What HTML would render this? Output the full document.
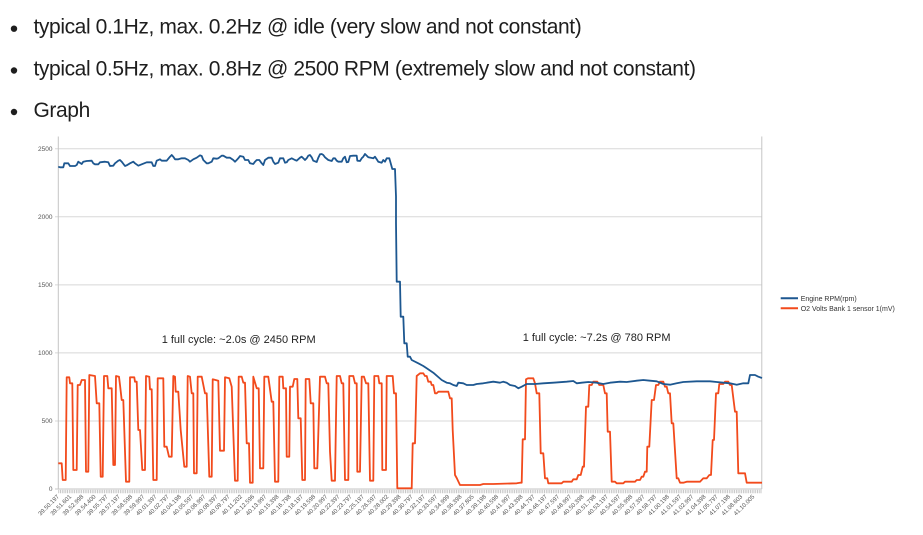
<!DOCTYPE html>
<html><head><meta charset="utf-8"><style>
html,body{margin:0;padding:0;background:#fff;width:923px;height:535px;overflow:hidden}
svg{display:block}
</style></head><body>
<svg width="923" height="535" viewBox="0 0 923 535" xmlns="http://www.w3.org/2000/svg">
<rect width="923" height="535" fill="#fff"/>
<g font-family="'Liberation Sans', sans-serif" font-size="21" fill="#1e1e1e" letter-spacing="-0.4">
<circle cx="14" cy="28.7" r="3.2" fill="#1e1e1e"/>
<circle cx="14" cy="70.5" r="3.2" fill="#1e1e1e"/>
<circle cx="14" cy="112" r="3.2" fill="#1e1e1e"/>
<text x="33.5" y="33.7">typical 0.1Hz, max. 0.2Hz @ idle (very slow and not constant)</text>
<text x="33.5" y="75.5">typical 0.5Hz, max. 0.8Hz @ 2500 RPM (extremely slow and not constant)</text>
<text x="33.5" y="117">Graph</text>
</g>
<!-- grid -->
<g stroke="#d8d8d8" stroke-width="1">
<line x1="55" y1="148.8" x2="762" y2="148.8"/>
<line x1="55" y1="216.8" x2="762" y2="216.8"/>
<line x1="55" y1="284.9" x2="762" y2="284.9"/>
<line x1="55" y1="352.9" x2="762" y2="352.9"/>
<line x1="55" y1="421" x2="762" y2="421"/>
</g>
<g stroke="#c4c4c4" stroke-width="1">
<line x1="58.3" y1="136.5" x2="58.3" y2="489"/>
<line x1="761.8" y1="136.5" x2="761.8" y2="489"/>
<line x1="55" y1="489" x2="762" y2="489"/>
</g>
<line x1="58.3" y1="491.6" x2="762" y2="491.6" stroke="#c2c2c2" stroke-width="3.4" stroke-dasharray="0.9 0.86"/>
<g font-family="'Liberation Sans', sans-serif" font-size="6.5" fill="#555" text-anchor="end">
<text x="52.5" y="151">2500</text>
<text x="52.5" y="219">2000</text>
<text x="52.5" y="287.1">1500</text>
<text x="52.5" y="355.1">1000</text>
<text x="52.5" y="423.2">500</text>
<text x="52.5" y="491.2">0</text>
</g>
<!-- series -->
<polyline fill="none" stroke="#f24a1c" stroke-width="1.8" stroke-linejoin="round" points="58.3,463.3 61.7,463.3 62.7,480 65.7,480 66.7,377.3 69.3,377.3 70,383.3 72.3,383.3 73.3,470 76.7,470 77.7,385 80,385 81.7,380 85,380 86,471.7 88.3,471.7 89.3,375 95,376 96.7,403.3 99.3,403.3 100.7,476.7 102.7,476.7 104,376 107.3,376 108.3,388.3 111.7,388.3 113.3,465 115,465 116,376 119,376.7 120,385 121.7,400 123.3,400 126,481.7 129.3,481.7 130,377.3 134.3,377.3 135,381.7 136.7,381.7 138.3,430 140,430 142.3,470 145,470 146,376 149.3,376.7 150,389.3 151.7,389.3 153.3,480 156.7,480 157.7,378.3 163.3,378.3 164.3,446.7 166.7,446.7 169,456.7 171.7,456.7 173.3,376 175,376.7 175.7,391.7 178.3,391.7 180.7,430 184.3,466.7 186.7,466.7 187.7,376 190,376.7 191.7,393.3 193.3,393.3 194,473.3 196.7,473.3 197.7,376.7 201.7,376.7 205,393.3 206.7,393.3 209.3,476.7 211.7,476.7 212.7,379.3 218.3,380.7 220,450.7 224,450.7 225,377.3 229.3,378.3 231.7,386.7 235,480.7 237.7,480.7 238.7,376.7 241.7,376.7 243.3,382.7 245,382.7 246.7,443.3 249,443.3 250,482.7 252.7,482.7 253.3,376.7 256.7,388.3 258.7,388.3 260,468.3 263.3,468.3 264.3,376.7 268.3,376.7 271.7,401.7 273.3,401.7 275,481.7 278.3,481.7 279.3,376.7 282.7,376.7 283.3,388.3 286,388.3 286.7,456.7 289.3,456.7 290,386.7 292.7,386.7 294.3,379 297.3,379 298.3,418.3 300.7,418.3 302.3,480 305,480 305.7,379 309.3,379 310.7,403.3 313.3,403.3 314.3,468.3 317.3,468.3 320,376.7 325,376.7 326.7,383.3 328.3,383.3 330,451.7 331.7,480.7 335,480.7 336.7,376 340,376 341.7,383.3 343.3,383.3 345,480 348.3,480 349.3,376 353.3,376 355,383.3 356.7,383.3 357.3,471.7 360,471.7 361.7,376.7 364,376.7 366,383.3 368.3,383.3 370,480.7 373.3,480.7 374.3,376 378.3,376 379.3,383.3 381.7,383.3 382.3,470 386,470 386.7,376 392.7,376 394,393.3 396,393.3 397.3,488.3 411.7,488.3 412.7,443.3 415,443.3 416.7,376 420,373.3 423.3,373.3 425,376 426.7,376 428.3,381.7 430.7,381.7 431.7,385 433.3,385 435,393.3 436.7,393.3 438.3,391.7 448.3,391.7 450,398.3 451.7,398.3 452.7,430 455,475 456.7,478 460,485 480,485 483.3,484 493.3,484 516.7,483.3 520,482.7 521.7,482.7 522.7,439.3 525,439.3 526,379.3 528,378.3 533.3,378.3 535,383.3 536.7,393.3 539.3,393.3 540.7,453.3 543.3,453.3 545,478.3 547.3,478.3 548.3,483.3 561.7,483.3 563.3,481.7 571.7,481.7 573.3,479.3 576.7,479.3 578.3,475 580.7,475 582.7,466.7 584,466.7 586,406.7 588.3,406.7 589.3,385 591.7,385 593.3,381.7 597.3,381.7 599.3,385 603.3,385 605,393.3 606.7,393.3 607.7,431.7 610,431.7 611.7,481.7 615,481.7 616.7,483.3 623.3,483.3 625,481.7 635,481.7 636.7,480 640,480 641.7,476.7 643.3,476.7 645,471.7 646.7,471.7 647.3,446.7 649.3,446.7 651.7,400 654,400 656,385 658.3,385 660,381.7 663.3,381.7 665,386.7 666.7,386.7 668.3,393.3 670,393.3 671.7,423.3 673.3,423.3 676.7,478.3 678.3,478.3 680,482.7 683.3,482.7 686.7,481.7 700,481.7 703.3,478.3 706.7,478.3 709.3,475 711,475 712.7,440 714,440 716,393.3 718.3,393.3 719.3,384 723.3,384 725,381.7 728.3,381.7 730,385 731.7,385 735,411.7 736.7,411.7 738.3,473.3 745,473.3 746.7,482.7 762,482.7"/>
<polyline fill="none" stroke="#1d5790" stroke-width="1.8" stroke-linejoin="round" points="58.3,166.7 60,167.3 63.3,167.3 64.3,163.3 68.3,163.3 70,166 75,166 76.7,165 78.3,161.7 81.7,164 83.3,161.7 86.7,161 91.7,160.7 93.3,163.3 95,164.3 98.3,164.3 100,162.3 105,161.7 108.3,162.3 110,166 113.3,165.7 115,163.3 118.3,160.7 120,160 121.7,161.7 125,166 126.7,165.3 130,163.3 133.3,161.7 135,163.3 138.3,165.7 141.7,164.3 146.7,162.3 151.7,162.3 153.3,166 155,166 156.7,160.7 160,159.3 161.7,160.7 166.7,160.7 170,156.7 171.7,155 173.3,156.7 175,159.3 178.3,159.3 181.7,158.3 185,158.3 188.3,160 190,161.7 193.3,159.3 196.7,157.7 200,155.3 201.7,156 203.3,160 206.7,163.3 208.3,163.3 211.7,161.7 213.3,158.3 216.7,158.7 218.3,158.3 221.7,155.7 223.3,155.7 226.7,157.7 230,157.7 233.3,160 235,161.7 236.7,160 238.3,158.3 240,156 243.3,156.7 245,160 248.3,160 250,163.3 253.3,164 255,161.7 256.7,160 259.3,160 261.7,163.3 263.3,165 265,160 268.3,157.7 271.7,157.7 273.3,161.7 275,164 278.3,162.7 280,158.3 283.3,158.3 285,162.7 286.7,162.3 288.3,160 291.7,158.3 295,160 296.7,160.7 300,157.7 301.7,156.7 303.3,158.3 305,160 306.7,158.3 308.3,155.7 310,155 311.7,157.3 313.3,160.7 316.7,162 318.3,157.7 320,154.3 321.7,154 323.3,155 325,157.3 328.3,160 331.7,161 333.3,158.3 335,158.3 336.7,160.7 338.3,161.7 341.7,161.7 343.3,158.3 345,156.7 346.7,162.3 348.3,162 350,156 353.3,155.7 356.7,155.7 357.3,160.7 360,161 361.7,158.3 363.3,156.7 365,154 368.3,157.3 373.3,158.3 375,156.7 376.7,159.3 378.3,161.7 381.7,162.7 383.3,160 385,161.7 386.7,158.3 389.3,158.3 390.7,163.3 392.3,169 395,169 396,196.7 396,223 396.7,281.7 400,281.7 400.7,316.7 403.3,316.7 404.3,343.3 406.7,343.3 407.7,356.7 410,356.7 411.7,360 418.3,363.3 423.3,366 426.7,368.3 433.3,372.7 441.7,380 446.7,382.7 450,383.3 453.3,385 456.7,386 458.3,382.7 463.3,383.3 466.7,385 473.3,385 476.7,384 483.3,383.3 486.7,382.7 493.3,381.7 500,382.7 503.3,381.7 506.7,382.7 510,385 515,386 518.3,388.3 521.7,386.7 526.7,384 535,384 543.3,383.3 553.3,382.7 566.7,381.7 573.3,381 576.7,383.3 581.7,382.7 588.3,382 596.7,382.7 603.3,384 610,382.7 620,381.7 626.7,382 636.7,380.7 643.3,380 650,380.7 656.7,381.3 663.3,384 670,384.7 676.7,383.3 683.3,382 696.7,381.3 710,381.3 716.7,382 723.3,382.7 730,383.3 736.7,384.7 743.3,383.3 748.3,383.3 750,375 755,375 758.3,376.7 762,378"/>
<!-- annotations -->
<g font-family="'Liberation Sans', sans-serif" font-size="11" fill="#222">
<text x="161.7" y="343.2">1 full cycle: ~2.0s @ 2450 RPM</text>
<text x="522.7" y="341.2">1 full cycle: ~7.2s @ 780 RPM</text>
</g>
<!-- legend -->
<line x1="780.7" y1="298.3" x2="798" y2="298.3" stroke="#1d5790" stroke-width="2"/>
<line x1="780.7" y1="308.3" x2="798" y2="308.3" stroke="#f24a1c" stroke-width="2"/>
<g font-family="'Liberation Sans', sans-serif" font-size="7" fill="#333">
<text x="800.7" y="300.8">Engine RPM(rpm)</text>
<text x="800.7" y="310.8">O2 Volts Bank 1 sensor 1(mV)</text>
</g>
<!-- x labels -->
<g font-family="'Liberation Sans', sans-serif" font-size="6" fill="#555" text-anchor="end">
<text transform="translate(59.5,497) rotate(-45)">39.50.197</text>
<text transform="translate(71.7,497) rotate(-45)">39.51.601</text>
<text transform="translate(83.9,497) rotate(-45)">39.52.998</text>
<text transform="translate(96.1,497) rotate(-45)">39.54.400</text>
<text transform="translate(108.3,497) rotate(-45)">39.55.797</text>
<text transform="translate(120.5,497) rotate(-45)">39.57.197</text>
<text transform="translate(132.7,497) rotate(-45)">39.58.598</text>
<text transform="translate(144.9,497) rotate(-45)">39.59.997</text>
<text transform="translate(157.1,497) rotate(-45)">40.01.397</text>
<text transform="translate(169.3,497) rotate(-45)">40.02.797</text>
<text transform="translate(181.5,497) rotate(-45)">40.04.198</text>
<text transform="translate(193.7,497) rotate(-45)">40.05.597</text>
<text transform="translate(205.9,497) rotate(-45)">40.06.997</text>
<text transform="translate(218.1,497) rotate(-45)">40.08.397</text>
<text transform="translate(230.3,497) rotate(-45)">40.09.797</text>
<text transform="translate(242.5,497) rotate(-45)">40.11.202</text>
<text transform="translate(254.7,497) rotate(-45)">40.12.596</text>
<text transform="translate(266.9,497) rotate(-45)">40.13.997</text>
<text transform="translate(279.1,497) rotate(-45)">40.15.398</text>
<text transform="translate(291.3,497) rotate(-45)">40.16.798</text>
<text transform="translate(303.5,497) rotate(-45)">40.18.197</text>
<text transform="translate(315.7,497) rotate(-45)">40.19.598</text>
<text transform="translate(327.9,497) rotate(-45)">40.20.997</text>
<text transform="translate(340.1,497) rotate(-45)">40.22.397</text>
<text transform="translate(352.3,497) rotate(-45)">40.23.797</text>
<text transform="translate(364.5,497) rotate(-45)">40.25.197</text>
<text transform="translate(376.7,497) rotate(-45)">40.26.597</text>
<text transform="translate(388.9,497) rotate(-45)">40.28.002</text>
<text transform="translate(401.1,497) rotate(-45)">40.29.398</text>
<text transform="translate(413.3,497) rotate(-45)">40.30.797</text>
<text transform="translate(425.5,497) rotate(-45)">40.32.197</text>
<text transform="translate(437.7,497) rotate(-45)">40.33.597</text>
<text transform="translate(449.9,497) rotate(-45)">40.34.999</text>
<text transform="translate(462.1,497) rotate(-45)">40.36.398</text>
<text transform="translate(474.3,497) rotate(-45)">40.37.805</text>
<text transform="translate(486.5,497) rotate(-45)">40.39.198</text>
<text transform="translate(498.7,497) rotate(-45)">40.40.598</text>
<text transform="translate(510.9,497) rotate(-45)">40.41.997</text>
<text transform="translate(523.1,497) rotate(-45)">40.43.398</text>
<text transform="translate(535.3,497) rotate(-45)">40.44.797</text>
<text transform="translate(547.5,497) rotate(-45)">40.46.197</text>
<text transform="translate(559.7,497) rotate(-45)">40.47.597</text>
<text transform="translate(571.9,497) rotate(-45)">40.48.997</text>
<text transform="translate(584.1,497) rotate(-45)">40.50.398</text>
<text transform="translate(596.3,497) rotate(-45)">40.51.798</text>
<text transform="translate(608.5,497) rotate(-45)">40.53.197</text>
<text transform="translate(620.7,497) rotate(-45)">40.54.597</text>
<text transform="translate(632.9,497) rotate(-45)">40.55.998</text>
<text transform="translate(645.1,497) rotate(-45)">40.57.397</text>
<text transform="translate(657.3,497) rotate(-45)">40.58.797</text>
<text transform="translate(669.5,497) rotate(-45)">41.00.198</text>
<text transform="translate(681.7,497) rotate(-45)">41.01.597</text>
<text transform="translate(693.9,497) rotate(-45)">41.02.997</text>
<text transform="translate(706.1,497) rotate(-45)">41.04.398</text>
<text transform="translate(718.3,497) rotate(-45)">41.05.797</text>
<text transform="translate(730.5,497) rotate(-45)">41.07.198</text>
<text transform="translate(742.7,497) rotate(-45)">41.08.603</text>
<text transform="translate(754.9,497) rotate(-45)">41.10.005</text>
</g>
</svg>
</body></html>
